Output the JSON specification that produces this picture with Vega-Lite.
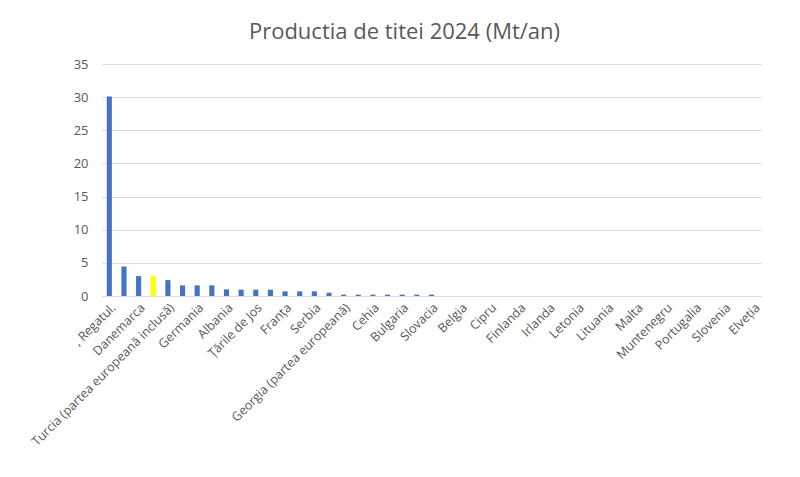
{
  "$schema": "https://vega.github.io/schema/vega-lite/v6.json",
  "autosize": {"type": "none"},
  "padding": {"left": 102, "top": 64, "right": 39, "bottom": 181},
  "width": 659,
  "height": 232,
  "background": "white",
  "title": {
    "text": "Productia de titei  2024 (Mt/an)",
    "font": "Open Sans",
    "fontSize": 22,
    "fontWeight": "normal",
    "color": "#595959",
    "anchor": "middle",
    "dx": -27,
    "offset": 14
  },
  "config": {
    "view": {"stroke": null},
    "axis": {"labelFont": "Open Sans", "labelColor": "#595959"}
  },
  "data": {
    "values": [
      {"tara": ", Regatul.", "valoare": 30.1, "evidentiat": "nu"},
      {"tara": "Italia", "valoare": 4.45, "evidentiat": "nu"},
      {"tara": "Danemarca", "valoare": 3.0, "evidentiat": "nu"},
      {"tara": "România", "valoare": 3.0, "evidentiat": "da"},
      {"tara": "Turcia (partea europeană inclusă)", "valoare": 2.4, "evidentiat": "nu"},
      {"tara": "Ucraina", "valoare": 1.6, "evidentiat": "nu"},
      {"tara": "Germania", "valoare": 1.6, "evidentiat": "nu"},
      {"tara": "Polonia", "valoare": 1.6, "evidentiat": "nu"},
      {"tara": "Albania", "valoare": 1.0, "evidentiat": "nu"},
      {"tara": "Ungaria", "valoare": 0.95, "evidentiat": "nu"},
      {"tara": "Țările de Jos", "valoare": 0.95, "evidentiat": "nu"},
      {"tara": "Austria", "valoare": 0.95, "evidentiat": "nu"},
      {"tara": "Franța", "valoare": 0.7, "evidentiat": "nu"},
      {"tara": "Croația", "valoare": 0.7, "evidentiat": "nu"},
      {"tara": "Serbia", "valoare": 0.7, "evidentiat": "nu"},
      {"tara": "Grecia", "valoare": 0.5, "evidentiat": "nu"},
      {"tara": "Georgia (partea europeană)", "valoare": 0.2, "evidentiat": "nu"},
      {"tara": "Spania", "valoare": 0.2, "evidentiat": "nu"},
      {"tara": "Cehia", "valoare": 0.2, "evidentiat": "nu"},
      {"tara": "Belarus", "valoare": 0.2, "evidentiat": "nu"},
      {"tara": "Bulgaria", "valoare": 0.2, "evidentiat": "nu"},
      {"tara": "Macedonia de Nord", "valoare": 0.2, "evidentiat": "nu"},
      {"tara": "Slovacia", "valoare": 0.2, "evidentiat": "nu"},
      {"tara": "Bosnia și Herțegovina", "valoare": 0, "evidentiat": "nu"},
      {"tara": "Belgia", "valoare": 0, "evidentiat": "nu"},
      {"tara": "Estonia", "valoare": 0, "evidentiat": "nu"},
      {"tara": "Cipru", "valoare": 0, "evidentiat": "nu"},
      {"tara": "Islanda", "valoare": 0, "evidentiat": "nu"},
      {"tara": "Finlanda", "valoare": 0, "evidentiat": "nu"},
      {"tara": "Kosovo", "valoare": 0, "evidentiat": "nu"},
      {"tara": "Irlanda", "valoare": 0, "evidentiat": "nu"},
      {"tara": "Liechtenstein", "valoare": 0, "evidentiat": "nu"},
      {"tara": "Letonia", "valoare": 0, "evidentiat": "nu"},
      {"tara": "Luxemburg", "valoare": 0, "evidentiat": "nu"},
      {"tara": "Lituania", "valoare": 0, "evidentiat": "nu"},
      {"tara": "Moldova", "valoare": 0, "evidentiat": "nu"},
      {"tara": "Malta", "valoare": 0, "evidentiat": "nu"},
      {"tara": "Monaco", "valoare": 0, "evidentiat": "nu"},
      {"tara": "Muntenegru", "valoare": 0, "evidentiat": "nu"},
      {"tara": "San Marino", "valoare": 0, "evidentiat": "nu"},
      {"tara": "Portugalia", "valoare": 0, "evidentiat": "nu"},
      {"tara": "Suedia", "valoare": 0, "evidentiat": "nu"},
      {"tara": "Slovenia", "valoare": 0, "evidentiat": "nu"},
      {"tara": "Andorra", "valoare": 0, "evidentiat": "nu"},
      {"tara": "Elveția", "valoare": 0, "evidentiat": "nu"}
    ]
  },
  "mark": "bar",
  "encoding": {
    "x": {
      "field": "tara",
      "type": "nominal",
      "sort": null,
      "scale": {"paddingInner": 0.65, "paddingOuter": 0.325},
      "axis": {
        "title": null,
        "labelAngle": -45,
        "labelFontSize": 12.5,
        "labelLimit": 400,
        "labelPadding": 5,
        "ticks": false,
        "domainColor": "#d9d9d9",
        "labelExpr": "indexof(['Italia','România','Ucraina','Polonia','Ungaria','Austria','Croația','Grecia','Spania','Belarus','Macedonia de Nord','Bosnia și Herțegovina','Estonia','Islanda','Kosovo','Liechtenstein','Luxemburg','Moldova','Monaco','San Marino','Suedia','Andorra'], datum.value) >= 0 ? '' : datum.label"
      }
    },
    "y": {
      "field": "valoare",
      "type": "quantitative",
      "scale": {"domain": [0, 35]},
      "axis": {
        "title": null,
        "values": [0, 5, 10, 15, 20, 25, 30, 35],
        "domain": false,
        "ticks": false,
        "gridColor": "#d9d9d9",
        "labelFontSize": 13,
        "labelPadding": 14
      }
    },
    "color": {
      "field": "evidentiat",
      "type": "nominal",
      "scale": {"domain": ["nu", "da"], "range": ["#4472C4", "#FFFF00"]},
      "legend": null
    }
  }
}
